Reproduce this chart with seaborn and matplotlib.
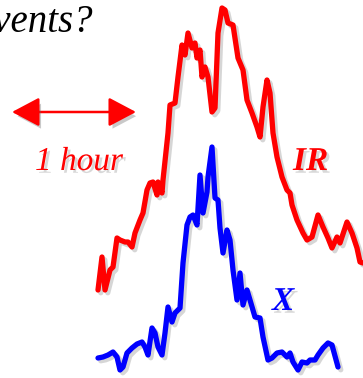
import matplotlib
matplotlib.use("Agg")
import matplotlib.pyplot as plt
import matplotlib.patheffects as pe
from matplotlib.patches import FancyArrowPatch
import seaborn as sns
import pandas as pd

# Light curves (arbitrary time units, arbitrary flux units)
ir_time = [98, 102, 105, 110, 113, 117, 120, 125, 128, 132, 135, 140, 143, 147, 150,
           153, 157, 158, 162, 163, 168, 170, 175, 178, 182, 185, 188, 192, 195, 197,
           200, 202, 205, 208, 212, 215, 218, 222, 225, 228, 233, 238, 243, 247, 252,
           257, 260, 263, 267, 270, 273, 277, 282, 287, 290, 292, 297, 303, 307, 312,
           318, 323, 328, 332, 337, 340, 347, 352, 357, 360, 363]
ir_flux = [88, 121, 88, 108, 111, 140, 138, 136, 136, 131, 145, 158, 165, 188, 195,
           196, 183, 196, 185, 198, 245, 273, 275, 301, 333, 323, 345, 330, 335, 320,
           328, 301, 311, 301, 266, 270, 345, 370, 368, 355, 353, 320, 308, 278, 265,
           251, 241, 271, 298, 285, 245, 221, 201, 188, 185, 173, 158, 145, 138, 141,
           163, 151, 140, 130, 141, 135, 156, 145, 130, 116, 115]

x_time = [98, 103, 108, 113, 117, 120, 123, 127, 132, 137, 142, 145, 148, 152, 155,
          158, 162, 165, 168, 172, 175, 180, 183, 187, 190, 193, 197, 200, 203, 207,
          208, 212, 215, 218, 220, 223, 227, 230, 233, 237, 240, 243, 247, 250, 255,
          260, 263, 268, 272, 277, 282, 287, 290, 293, 298, 302, 307, 310, 315, 318,
          323, 328, 332, 338]
x_flux = [20, 21, 23, 26, 21, 8, 11, 25, 30, 34, 36, 31, 23, 50, 45,
          31, 23, 45, 71, 56, 65, 70, 115, 153, 161, 163, 153, 203, 165, 186,
          201, 231, 180, 178, 150, 125, 148, 138, 108, 78, 105, 73, 88, 78, 61,
          60, 41, 18, 20, 25, 26, 21, 25, 16, 8, 16, 15, 18, 18, 23,
          30, 35, 33, 11]

# Scale bar: one hour in time units
hour_start, hour_end = 12, 136

ir_df = pd.DataFrame({"time": ir_time, "flux": ir_flux})
x_df = pd.DataFrame({"time": x_time, "flux": x_flux})

sns.set_theme(style="white")
plt.rcParams["font.family"] = ["Liberation Serif", "DejaVu Serif"]

fig = plt.figure(figsize=(3.63, 3.78), dpi=100)
ax = fig.add_axes([0, 0, 1, 1])
ax.set_xlim(0, 363)
ax.set_ylim(0, 378)
ax.axis("off")

line_shadow = [pe.SimpleLineShadow(offset=(2, -2), shadow_color="0.55", alpha=0.35), pe.Normal()]


def text_shadow():
    return [pe.SimplePatchShadow(offset=(2, -2), shadow_rgbFace="0.5", alpha=0.3), pe.Normal()]


sns.lineplot(data=ir_df, x="time", y="flux", sort=False, estimator=None,
             color="#ff0000", linewidth=3.8, ax=ax, path_effects=line_shadow)
sns.lineplot(data=x_df, x="time", y="flux", sort=False, estimator=None,
             color="#0000ff", linewidth=3.8, ax=ax, path_effects=line_shadow)

# Double-headed arrow marking one hour
arrow = FancyArrowPatch((hour_start, 266), (hour_end, 266),
                        arrowstyle="<|-|>,head_length=17,head_width=9",
                        mutation_scale=1, color="#ff0000", linewidth=1.8,
                        shrinkA=0, shrinkB=0,
                        path_effects=[pe.SimplePatchShadow(offset=(2, -3), shadow_rgbFace="0.4", alpha=0.35), pe.Normal()])
ax.add_patch(arrow)

ax.text(35, 208, "1 hour", color="#ff0000", fontsize=24, style="italic",
        ha="left", va="baseline", path_effects=text_shadow())
ax.text(293, 208, "IR", color="#ff0000", fontsize=24, style="italic", weight="bold",
        ha="left", va="baseline", path_effects=text_shadow())
ax.text(272, 68, "X", color="#0000ff", fontsize=24, style="italic", weight="bold",
        ha="left", va="baseline", path_effects=text_shadow())
ax.text(93, 346, "events?", color="black", fontsize=28, style="italic",
        ha="right", va="baseline")

fig.savefig("out.png", dpi=100)
